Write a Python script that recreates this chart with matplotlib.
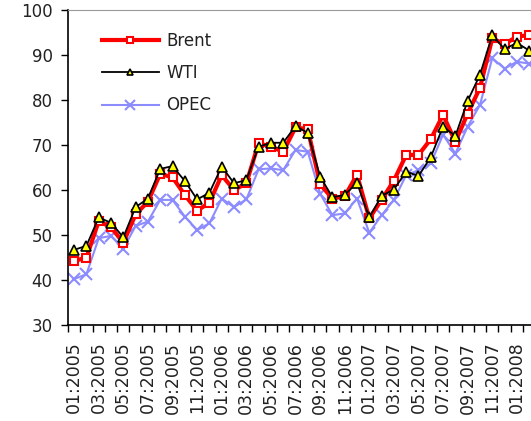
import matplotlib
matplotlib.use("Agg")
from matplotlib import pyplot as plt

# monthly averages, 01:2005 .. 02:2008
months = [f"{m:02d}:{y}" for y in (2005, 2006, 2007, 2008) for m in range(1, 13)][:38]

brent = [44.2, 45.0, 53.1, 51.7, 48.3, 54.6, 57.4, 63.6, 62.8, 58.9, 55.4, 57.2,
         63.3, 60.0, 61.5, 70.4, 69.6, 68.5, 73.9, 73.5, 61.3, 58.1, 58.6, 63.4,
         53.7, 57.8, 62.1, 67.8, 67.8, 71.3, 76.7, 70.7, 77.0, 82.7, 93.7, 92.4,
         94.1, 94.4]
wti = [46.7, 47.6, 53.9, 52.7, 49.5, 56.2, 58.1, 64.7, 65.3, 62.0, 57.9, 59.4,
       65.2, 61.5, 62.2, 69.6, 70.5, 70.5, 74.2, 72.7, 63.0, 58.4, 58.9, 61.6,
       53.9, 58.7, 60.1, 64.1, 63.1, 67.3, 74.1, 72.0, 79.8, 85.6, 94.4, 91.3,
       92.7, 91.0]
opec = [40.2, 41.3, 49.3, 49.8, 47.0, 52.0, 53.0, 57.8, 57.8, 54.1, 51.1, 52.6,
        58.1, 56.2, 57.9, 64.6, 64.8, 64.4, 68.9, 68.5, 59.2, 54.4, 54.8, 58.1,
        50.5, 54.4, 57.8, 63.3, 64.4, 65.9, 72.3, 68.1, 74.1, 78.9, 89.3, 87.0,
        88.5, 88.1]

x = list(range(len(months)))

fig = plt.figure(figsize=(5.31, 4.21), dpi=100)
ax = fig.add_axes([68 / 531, 1 - 325 / 421, 1 - 68 / 531, 315 / 421])

ax.plot(x, opec, color="#8c8cff", lw=1.5, marker="x", ms=9, mew=1.5,
        label="OPEC", zorder=1)
ax.plot(x, brent, color="#ff0000", lw=3, marker="s", ms=5.5, mfc="white",
        mec="#ff0000", mew=1.5, label="Brent", zorder=2)
ax.plot(x, wti, color="black", lw=1.3, marker="^", ms=6.5, mfc="#ffff00",
        mec="black", mew=1.2, label="WTI", zorder=3)

ax.set_xlim(-0.5, 37.15)
ax.set_ylim(30, 100)
ax.set_yticks(range(30, 101, 10))

# ticks between months, labels every second month
ax.set_xticks([i - 0.5 for i in x])
ax.set_xticklabels([])
ax.set_xticks(x[::2], minor=True)
ax.set_xticklabels(months[::2], minor=True, rotation=90)
ax.tick_params(axis="x", which="major", direction="out", length=5, width=1)
ax.tick_params(axis="x", which="minor", length=0, pad=12, labelsize=12.5,
               labelcolor="#222222")
ax.tick_params(axis="y", direction="out", length=5, width=1, labelsize=12,
               pad=6, labelcolor="#222222")

ax.spines["right"].set_visible(False)
ax.spines["top"].set_color("#999999")
ax.spines["left"].set_linewidth(1.2)
ax.spines["bottom"].set_linewidth(1.2)

h, l = ax.get_legend_handles_labels()
order = [1, 2, 0]
leg = ax.legend([h[i] for i in order], [l[i] for i in order], loc="upper left",
                bbox_to_anchor=(34 / 463, 0.93), frameon=False, fontsize=12,
                handlelength=3.4, handletextpad=0.45, labelspacing=0.85,
                borderpad=0, borderaxespad=0, markerscale=0.75)
for t in leg.get_texts():
    t.set_color("#222222")

fig.savefig("out.png", dpi=100)
